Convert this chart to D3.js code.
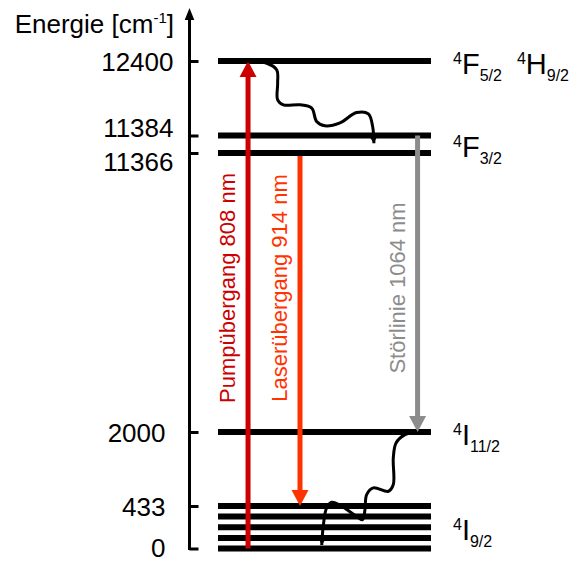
<!DOCTYPE html>
<html><head><meta charset="utf-8">
<script src="https://cdn.jsdelivr.net/npm/d3@7"></script>
<style>
body{margin:0;background:#fff;}
svg{display:block;font-family:Arial,"Liberation Sans",sans-serif;}
</style>
</head><body>
<svg id="chart" width="569" height="563"></svg>
<script>
// ---------- data ----------
const tickValues = [0, 433, 2000, 11366, 11384, 12400];
const tickLabels = ["0", "433", "2000", "11366", "11384", "12400"];
const upperLevels = [12400, 11384, 11366, 2000];
const groundLevels = [0, 108, 216, 325, 433];
const axisTitle = ["Energie [cm", "-1", "]"];

const transitionNames = ["Pumpübergang 808 nm", "Laserübergang 914 nm", "Störlinie 1064 nm"];
const transitionFrom = [0, 11366, 11384];
const transitionTo = [12400, 433, 2000];

// term symbols: [superscript, letter, subscript]
const termSymbols = [
  [["4", "F", "5/2"], ["4", "H", "9/2"]],
  [["4", "F", "3/2"]],
  [["4", "I", "11/2"]],
  [["4", "I", "9/2"]]
];
const termEnergies = [[12400], [11384, 11366], [2000], [0, 433]];

// non-radiative decays: [fraction along level, energy]
const decayUpper = [[0.135, 12400], [0.229, 12369], [0.276, 12278], [0.280, 12097], [0.280, 11870],
  [0.307, 11802], [0.385, 11802], [0.440, 11757], [0.463, 11574], [0.502, 11516], [0.573, 11557],
  [0.651, 11697], [0.706, 11679], [0.726, 11506], [0.732, 11376]];
const decayLower = [[0.933, 2000], [0.878, 1943], [0.836, 1768], [0.823, 1451], [0.823, 887],
  [0.800, 745], [0.729, 817], [0.698, 676], [0.690, 397], [0.679, 294], [0.643, 338], [0.581, 431],
  [0.534, 513], [0.510, 414], [0.494, 225], [0.487, 36]];

// ---------- layout / style ----------
const transitionColors = ["#cc0000", "#ff3300", "#8c8c8c"];
const transitionPos = [0.141, 0.385, 0.937];

const svg = d3.select("#chart");
const y = d3.scaleLinear()
  .domain([0, 433, 2000, 11366, 11384, 12400])
  .range([548.5, 506, 432, 153, 135.5, 61]);
const x = d3.scaleLinear().domain([0, 1]).range([218, 431]);
const axisX = 189.5;

// axis
const axis = d3.axisLeft(y).tickValues(tickValues)
  .tickFormat((d, i) => tickLabels[i]).tickSize(-9).tickPadding(16);
const gA = svg.append("g").attr("transform", `translate(${axisX},0)`).call(axis);
gA.select(".domain").remove();
gA.selectAll(".tick line").attr("stroke", "#000").attr("stroke-width", 3);
gA.selectAll(".tick text").attr("font-size", 26).attr("fill", "#000")
  .attr("font-family", "Arial, 'Liberation Sans', sans-serif").attr("dy", "0.35em");
// spread close labels
const ticksSorted = tickValues.map((v, i) => ({v, i, py: y(v)})).sort((a, b) => a.py - b.py);
const offsets = tickValues.map(() => 0);
for (let k = 0; k < ticksSorted.length - 1; k++) {
  const gap = ticksSorted[k + 1].py - ticksSorted[k].py;
  if (gap < 30) {
    const push = (34 - gap) / 2;
    offsets[ticksSorted[k].i] -= push;
    offsets[ticksSorted[k + 1].i] += push;
  }
}
gA.selectAll(".tick text").each(function (d) {
  const idx = tickValues.indexOf(d);
  d3.select(this).attr("y", offsets[idx] + (d === 0 ? -1.5 : 0))
    .attr("x", tickLabels[idx].length >= 5 ? -16 : -24);
});
// axis line with arrow
const axisTop = 8;
svg.append("line").attr("x1", axisX).attr("x2", axisX)
  .attr("y1", y(0) + 1.5).attr("y2", axisTop + 8)
  .attr("stroke", "#000").attr("stroke-width", 3);
svg.append("path")
  .attr("d", `M${axisX},${axisTop} L${axisX - 4.8},${axisTop + 12} L${axisX + 4.8},${axisTop + 12} Z`)
  .attr("fill", "#000");

// axis title
const title = svg.append("text").attr("x", 174).attr("y", 33)
  .attr("text-anchor", "end").attr("font-size", 26).attr("fill", "#000");
title.append("tspan").text(axisTitle[0]);
title.append("tspan").attr("font-size", 15).attr("dy", -10).text(axisTitle[1]);
title.append("tspan").attr("dy", 10).text(axisTitle[2]);

// levels
svg.append("g").selectAll("line").data(upperLevels.concat(groundLevels)).join("line")
  .attr("x1", x(0)).attr("x2", x(1))
  .attr("y1", d => y(d)).attr("y2", d => y(d))
  .attr("stroke", "#000").attr("stroke-width", 6);

// transitions
const headLen = 16, headW = 17;
transitionNames.forEach((name, i) => {
  const px = x(transitionPos[i]);
  const y0 = y(transitionFrom[i]);
  const y1 = y(transitionTo[i]);
  const dir = y1 < y0 ? -1 : 1;
  const startY = (i === 1) ? y0 + 3 : y0;
  svg.append("line").attr("x1", px).attr("x2", px)
    .attr("y1", startY).attr("y2", y1 - dir * (headLen - 1))
    .attr("stroke", transitionColors[i]).attr("stroke-width", 5);
  svg.append("path")
    .attr("d", `M${px},${y1} L${px - headW / 2},${y1 - dir * headLen} L${px + headW / 2},${y1 - dir * headLen} Z`)
    .attr("fill", transitionColors[i]);
  svg.append("text")
    .attr("transform", `translate(${px - 13},288) rotate(-90)`)
    .attr("text-anchor", "middle").attr("font-size", 22)
    .attr("fill", transitionColors[i]).text(name);
});

// decays
const line = d3.line().x(d => x(d[0])).y(d => y(d[1])).curve(d3.curveCatmullRom.alpha(0.5));
[decayUpper, decayLower].forEach(pts => {
  svg.append("path").attr("d", line(pts)).attr("fill", "none")
    .attr("stroke", "#000").attr("stroke-width", 3);
  const a = pts[pts.length - 2], b = pts[pts.length - 1];
  const bx = x(b[0]), by = y(b[1]), ax = x(a[0]), ay = y(a[1]);
  const ang = Math.atan2(by - ay, bx - ax);
  const L = 8, W = 4.5;
  const cx = bx - L * Math.cos(ang), cy = by - L * Math.sin(ang);
  const nx = -Math.sin(ang), ny = Math.cos(ang);
  svg.append("path")
    .attr("d", `M${bx},${by} L${cx + W * nx},${cy + W * ny} L${cx - W * nx},${cy - W * ny} Z`)
    .attr("fill", "#000");
});

// term labels
termSymbols.forEach((terms, i) => {
  const cy = d3.mean(termEnergies[i], e => y(e));
  const t = svg.append("text").attr("x", 453).attr("y", cy + 13).attr("fill", "#000");
  terms.forEach((s, j) => {
    t.append("tspan").attr("font-size", 16).attr("dy", j === 0 ? -10 : -17)
      .attr("dx", j === 0 ? 0 : 15).text(s[0]);
    t.append("tspan").attr("font-size", 29).attr("dy", 10).text(s[1]);
    t.append("tspan").attr("font-size", 16).attr("dy", 7).text(s[2]);
  });
});
</script>
</body></html>
